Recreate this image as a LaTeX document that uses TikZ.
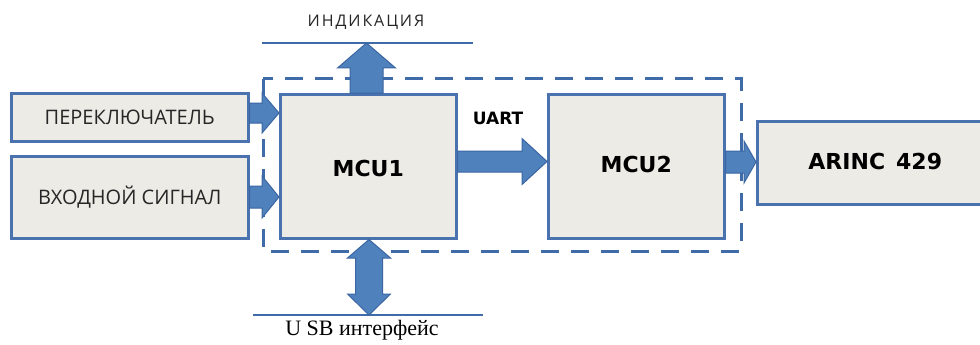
\documentclass[tikz,border=0pt]{standalone}
\usepackage{fontspec}
\setmainfont{Open Sans}
\newfontfamily\spacedf[LetterSpace=12]{Open Sans}
\newfontfamily\boldf{DejaVu Sans}
\newfontfamily\seriff{Liberation Serif}
\usetikzlibrary{calc}
\definecolor{boxfill}{HTML}{EDEBE5}
\definecolor{boxline}{HTML}{4A72AE}
\definecolor{arrfill}{HTML}{4F81BD}
\definecolor{arrline}{HTML}{3B66A3}
\definecolor{dashc}{HTML}{3F6CA8}
\tikzset{
  blk/.style={draw=boxline, line width=2.5pt, fill=boxfill, rectangle, anchor=north west, inner sep=0pt},
  lbl/.style={font=\fontsize{20}{22}\selectfont, text=black!85},
  mcu/.style={font=\boldf\bfseries\fontsize{22}{24}\selectfont},
  barrow/.style={fill=arrfill, draw=arrline, line width=1pt, line join=miter},
  busline/.style={draw=dashc, line width=1.8pt},
  frame/.style={draw=dashc, line width=3pt, dash pattern=on 18pt off 12pt}
}
\begin{document}
\begin{tikzpicture}[x=1pt,y=-1pt]
\useasboundingbox[fill=white] (0,0) rectangle (980,345);
\clip (0,0) rectangle (980,345);

% dashed enclosure
\draw[frame] (263,79) rectangle (741,251);

% boxes
\node[blk, minimum width=237pt, minimum height=48pt] (sw) at (10,92) {};
\node[lbl] at (sw.center) {ПЕРЕКЛЮЧАТЕЛЬ};
\node[blk, minimum width=237pt, minimum height=82pt] (inp) at (10,155) {};
\node[lbl] at (inp.center) {ВХОДНОЙ СИГНАЛ};
\node[blk, minimum width=176pt, minimum height=144pt] (mcu1) at (279,93) {};
\node[mcu] at ($(mcu1.center)+(0,2)$) {MCU1};
\node[blk, minimum width=176pt, minimum height=144pt] (mcu2) at (547,93) {};
\node[mcu] at ($(mcu2.center)+(0,-2)$) {MCU2};
\node[blk, minimum width=236pt, minimum height=83pt] (arinc) at (756,120) {};
\node[mcu] at ($(arinc.center)+(0,-1)$) {ARINC\hspace{0.5em}429};

% bus lines
\coordinate (indL) at (262,43);
\coordinate (indR) at (473,43);
\draw[busline] (indL) -- (indR);
\node[font=\spacedf\fontsize{16}{18}\selectfont, text=black!85] (indlbl) at (366,22) {ИНДИКАЦИЯ};
\coordinate (usbL) at (253,315);
\coordinate (usbR) at (483,315);
\draw[busline] (usbL) -- (usbR);
\node[font=\seriff\fontsize{22}{24}\selectfont] (usblbl) at (362,330) {U SB интерфейс};

% arrows: switch -> MCU1
\path let \p1=(sw.east), \p2=(mcu1.west) in
  [barrow] (\x1,113-10) -- (262,113-10) -- (262,113-20) -- (\x2,113) -- (262,113+20) -- (262,113+10) -- (\x1,113+10) -- cycle;
% input -> MCU1
\path let \p1=(inp.east), \p2=(mcu1.west) in
  [barrow] (\x1,197-11) -- (262,197-11) -- (262,197-21) -- (\x2,197) -- (262,197+21) -- (262,197+11) -- (\x1,197+11) -- cycle;
% MCU1 -> MCU2 (UART)
\path let \p1=(mcu1.east), \p2=(mcu2.west) in
  [barrow] (\x1,161.5-10.5) -- (522,161.5-10.5) -- (522,161.5-23) -- (\x2,161.5) -- (522,161.5+23) -- (522,161.5+10.5) -- (\x1,161.5+10.5) -- cycle;
\node[font=\boldf\bfseries\fontsize{17}{19}\selectfont] (uart) at (498,118) {UART};
% MCU2 -> ARINC
\path let \p1=(mcu2.east), \p2=(arinc.west) in
  [barrow] (\x1,162-11) -- (744,162-11) -- (744,162-21) -- (\x2,162) -- (744,162+21) -- (744,162+11) -- (\x1,162+11) -- cycle;
% MCU1 -> indication (up)
\path let \p1=(mcu1.north), \p2=(indL) in
  [barrow] (366.5-16.5,\y1) -- (366.5-16.5,68) -- (366.5-29,68) -- (366.5,\y2) -- (366.5+29,68) -- (366.5+16.5,68) -- (366.5+16.5,\y1) -- cycle;
% MCU1 <-> USB
\path let \p1=(mcu1.south), \p2=(usbL) in
  [barrow] (369,\y1) -- (369+21.5,258) -- (369+13.5,258) -- (369+13.5,294) -- (369+21.5,294) -- (369,\y2)
  -- (369-21.5,294) -- (369-13.5,294) -- (369-13.5,258) -- (369-21.5,258) -- cycle;
\end{tikzpicture}
\end{document}
